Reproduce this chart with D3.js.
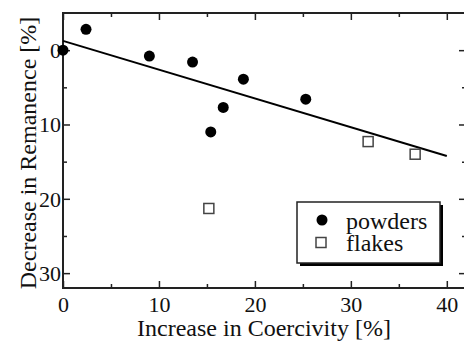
<!DOCTYPE html>
<html>
<head>
<meta charset="utf-8">
<script src="https://cdn.jsdelivr.net/npm/d3@7"></script>
<style>
  body { margin: 0; background: #fff; }
  svg { display: block; }
</style>
</head>
<body>
<svg id="chart" width="464" height="343"></svg>
<script>
// powders: [coercivity increase %, remanence decrease %]
const powdersX = [0, 2.4, 9.0, 13.5, 15.4, 16.7, 18.8, 25.3]
const powdersY = [0, -2.8, 0.8, 1.6, 11.0, 7.7, 3.9, 6.6]
const flakesX = [15.2, 31.8, 36.7]
const flakesY = [21.3, 12.3, 14.0]
const fitX = [0, 40]
const fitY = [-1.25, 14.25]
const xMajor = [0, 10, 20, 30, 40]
const xMinor = [5, 15, 25, 35]
const yMajor = [0, 10, 20, 30]
const yMinor = [5, 15, 25]

const FONT = "'Liberation Serif', 'Times New Roman', serif"
const margin = { top: 13, right: -2, bottom: 55, left: 63 }
const width = 464
const height = 343
const _w = width - margin.left - margin.right
const _h = height - margin.top - margin.bottom

const svg = d3.select('#chart')
const g = svg.append('g').attr('transform', `translate(${margin.left},${margin.top})`)

const x = d3.scaleLinear().domain([0, 42]).range([0, _w])
const y = d3.scaleLinear().domain([-5, 32]).range([0, _h])

const axisColor = '#222'

function drawAxis(axisGen, ticks, size, transform, labels) {
  const a = g.append('g')
    .attr('transform', transform)
    .call(axisGen.tickValues(ticks).tickSize(size).tickSizeOuter(0).tickFormat(labels ? d3.format('d') : ''))
  a.attr('font-family', null).attr('font-size', null)
  a.select('.domain').remove()
  a.selectAll('line').attr('stroke', axisColor).attr('stroke-width', 1.5)
  a.selectAll('text').attr('fill', '#111').style('font-size', '22px').style('font-family', FONT)
  return a
}

// bottom
const bx = drawAxis(d3.axisBottom(x), xMajor, -7, `translate(0,${_h})`, true)
bx.selectAll('text').attr('y', 8).attr('dy', '0.71em')
drawAxis(d3.axisBottom(x), xMinor, -4, `translate(0,${_h})`, false)
// top
drawAxis(d3.axisTop(x), xMajor, -7, 'translate(0,0)', false)
drawAxis(d3.axisTop(x), xMinor, -4, 'translate(0,0)', false)
// left
const ly = drawAxis(d3.axisLeft(y), yMajor, -7, 'translate(0,0)', true)
ly.selectAll('text').attr('x', -2).attr('dy', '0.34em')
drawAxis(d3.axisLeft(y), yMinor, -4, 'translate(0,0)', false)
// right
drawAxis(d3.axisRight(y), yMajor, -7, `translate(${_w},0)`, false)
drawAxis(d3.axisRight(y), yMinor, -4, `translate(${_w},0)`, false)

// frame
g.append('rect')
  .attr('width', _w).attr('height', _h)
  .attr('fill', 'none').attr('stroke', axisColor).attr('stroke-width', 2)

// fit line
g.append('line')
  .attr('x1', x(fitX[0])).attr('y1', y(fitY[0]))
  .attr('x2', x(fitX[1])).attr('y2', y(fitY[1]))
  .attr('stroke', '#000').attr('stroke-width', 2)

g.append('g')
  .selectAll('circle')
  .data(d3.zip(powdersX, powdersY))
  .join('circle')
  .attr('cx', d => x(d[0]))
  .attr('cy', d => y(d[1]))
  .attr('r', 5.5)
  .attr('fill', '#000')

const sq = 10
g.append('g')
  .selectAll('rect')
  .data(d3.zip(flakesX, flakesY))
  .join('rect')
  .attr('x', d => x(d[0]) - sq / 2)
  .attr('y', d => y(d[1]) - sq / 2)
  .attr('width', sq).attr('height', sq)
  .attr('fill', '#fff').attr('stroke', '#444').attr('stroke-width', 1.5)

// legend
const lg = svg.append('g').attr('transform', 'translate(297,202)')
lg.append('rect').attr('x', 3).attr('y', 3).attr('width', 143).attr('height', 61).attr('fill', '#000')
lg.append('rect').attr('width', 143).attr('height', 61).attr('fill', '#fff').attr('stroke', '#222').attr('stroke-width', 1.5)
lg.append('circle').attr('cx', 25).attr('cy', 18).attr('r', 5.5).attr('fill', '#000')
lg.append('rect').attr('x', 19).attr('y', 35.5).attr('width', 10).attr('height', 10)
  .attr('fill', '#fff').attr('stroke', '#444').attr('stroke-width', 1.5)
lg.append('text').attr('x', 49).attr('y', 27).text('powders')
  .style('font-size', '24px').style('font-family', FONT).attr('fill', '#111')
lg.append('text').attr('x', 49).attr('y', 49).text('flakes')
  .style('font-size', '24px').style('font-family', FONT).attr('fill', '#111')

// axis labels
svg.append('text')
  .attr('x', 264).attr('y', 336)
  .attr('text-anchor', 'middle')
  .style('font-size', '24px').style('font-family', FONT).attr('fill', '#111')
  .text('Increase in Coercivity [%]')

svg.append('text')
  .attr('transform', 'translate(36,153) rotate(-90)')
  .attr('text-anchor', 'middle')
  .style('font-size', '24px').style('font-family', FONT).attr('fill', '#111')
  .text('Decrease in Remanence [%]')
</script>
</body>
</html>
